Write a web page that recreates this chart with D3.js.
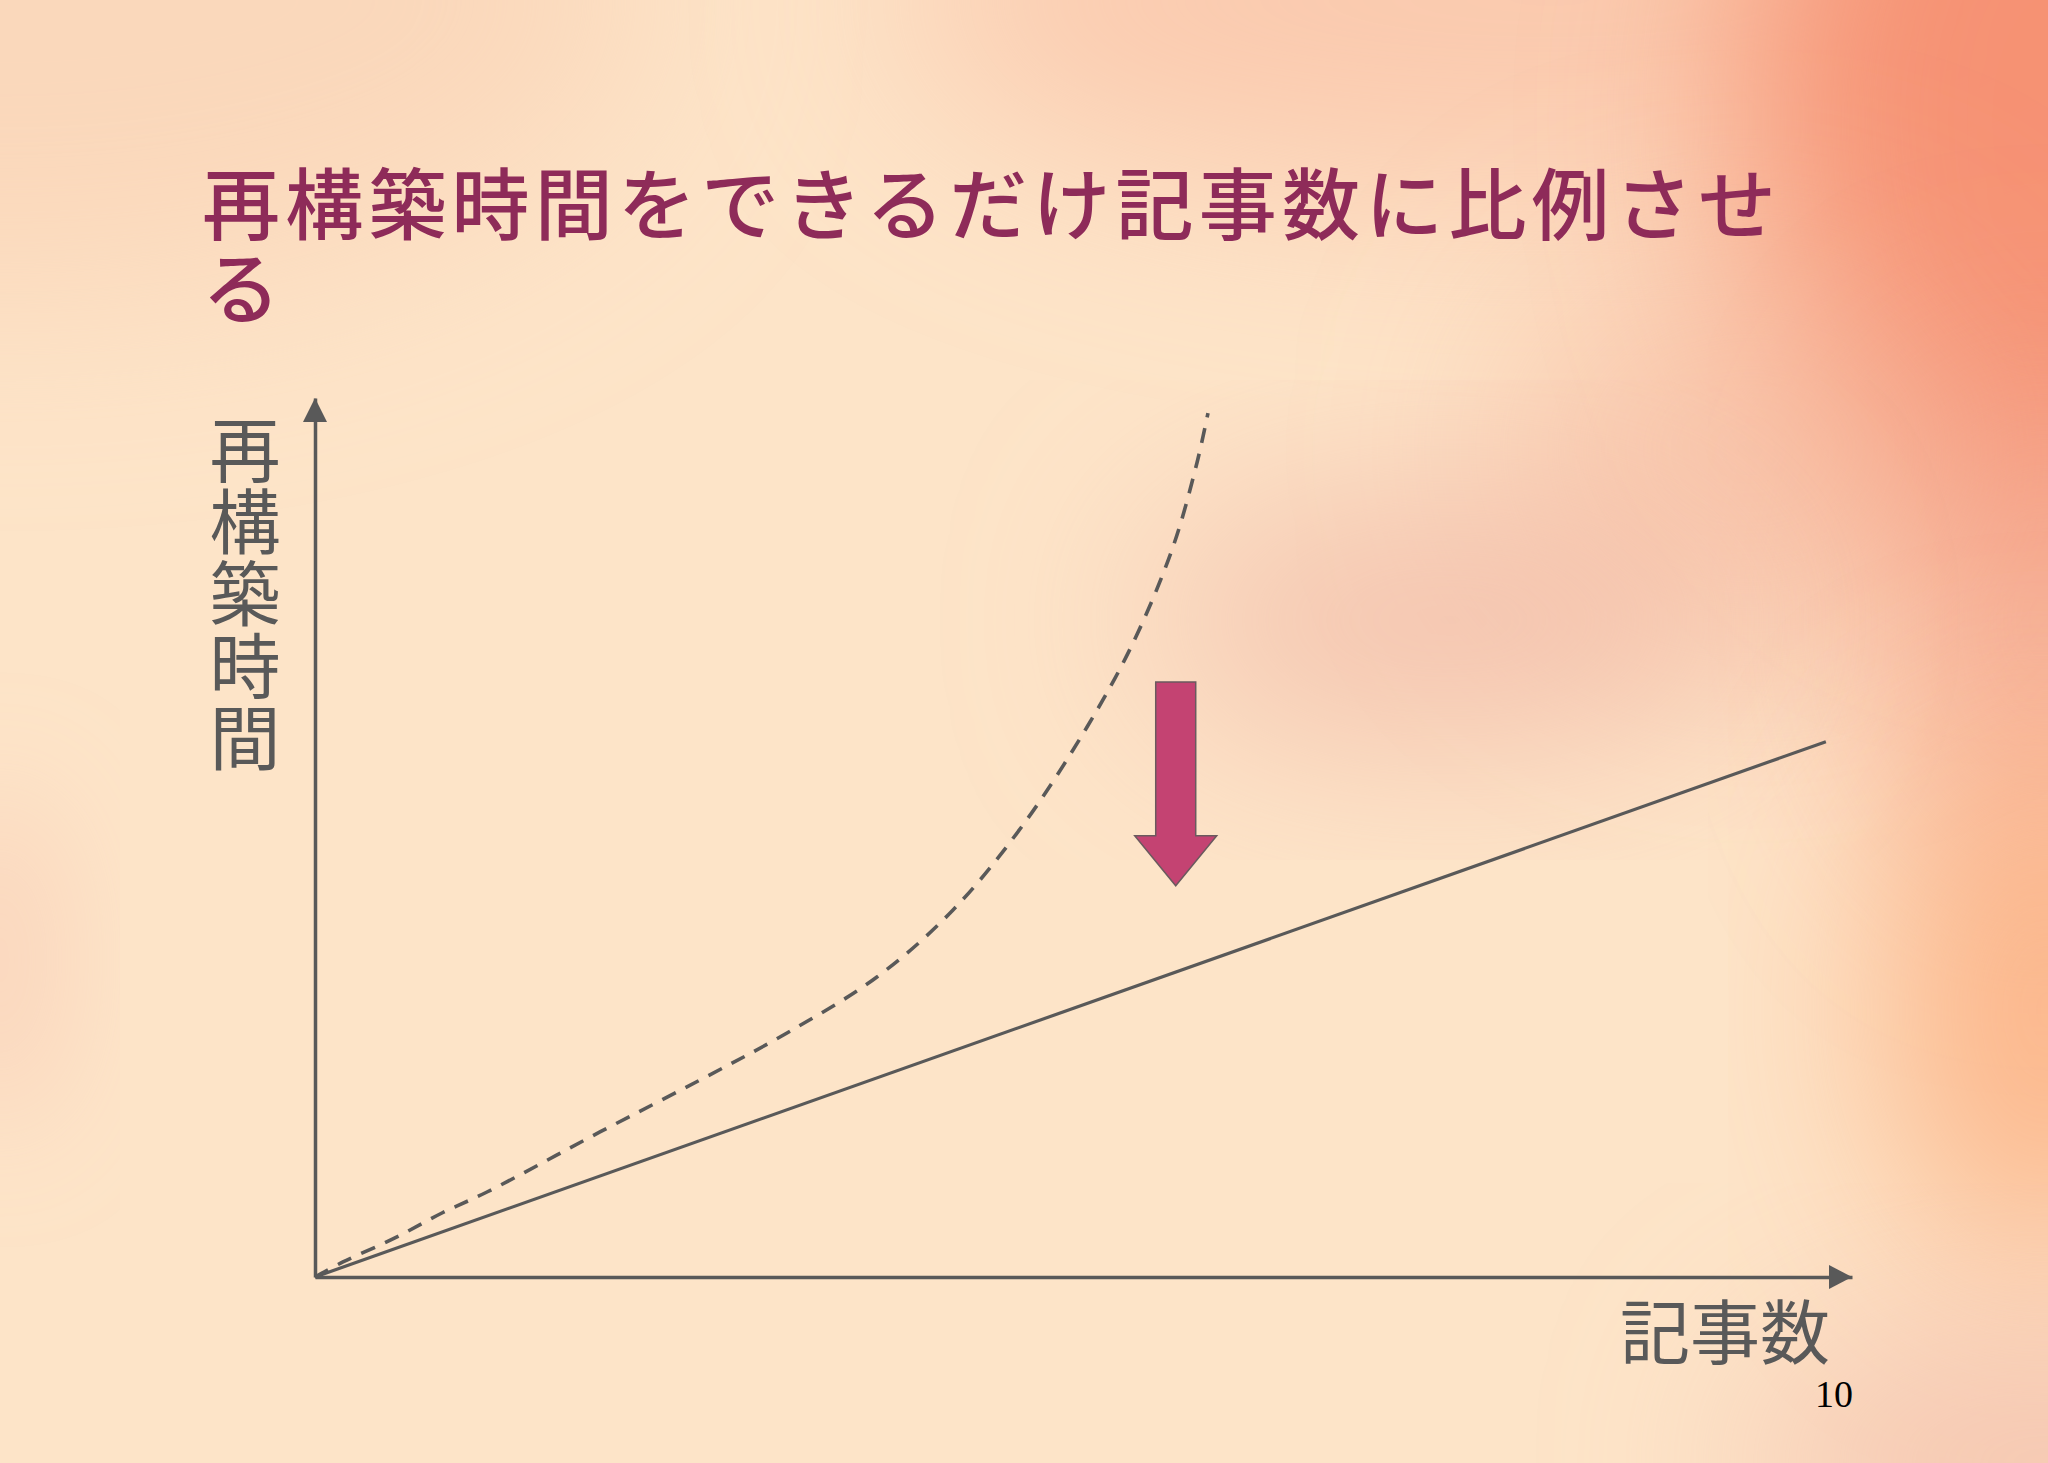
<!DOCTYPE html>
<html>
<head>
<meta charset="utf-8">
<script src="https://cdn.jsdelivr.net/npm/d3@7"></script>
<style>
  html, body { margin: 0; padding: 0; background: #FDE4C8; }
  svg { display: block; }
</style>
</head>
<body>
<div id="chart"></div>
<script>
// ---- data ----
const titleLines = ["再構築時間をできるだけ記事数に比例させ", "る"];
const yLabel = ["再", "構", "築", "時", "間"];
const xLabel = "記事数";
const pageNumber = "10";

// solid: proportional rebuild time
const solidX = [0, 98.3];
const solidY = [0, 60.9];

// dashed: current (super-linear) rebuild time
const dashedX = [0, 1.82, 5.20, 8.26, 11.19, 18.54, 25.05, 30.71, 36.56, 41.51, 46.06, 50.23, 53.22, 55.82, 57.38, 58.10];
const dashedY = [0, 1.71, 4.44, 7.28, 9.67, 16.50, 22.41, 27.76, 34.13, 41.75, 51.42, 62.57, 72.13, 83.05, 92.61, 98.29];

// arrow annotation (data units)
const arrowX = [56.0];
const arrowTop = [67.7];
const arrowHeadBase = [50.2];
const arrowTip = [44.5];

// ---- drawing ----
const W = 2048, H = 1463;
const svg = d3.select("#chart").append("svg").attr("width", W).attr("height", H);
const defs = svg.append("defs");

// background
svg.append("rect").attr("width", W).attr("height", H).attr("fill", "#FDE4C8");
[["blur", 100], ["blur2", 60]].forEach(([id, s]) => {
  defs.append("filter").attr("id", id)
    .attr("x", "-50%").attr("y", "-50%").attr("width", "200%").attr("height", "200%")
    .append("feGaussianBlur").attr("stdDeviation", s);
});

const blobs = [
  {cx: 0, cy: 0, rx: 650, ry: 300, c: "#F9D3B5", o: 0.7, f: "blur"},
  {cx: 1550, cy: 0, rx: 650, ry: 200, c: "#F9BFA4", o: 0.7, f: "blur"},
  {cx: 2048, cy: 120, rx: 300, ry: 420, c: "#F58E70", o: 0.95, f: "blur"},
  {cx: 2048, cy: 620, rx: 170, ry: 260, c: "#F3957C", o: 0.65, f: "blur"},
  {cx: 1750, cy: 450, rx: 250, ry: 200, c: "#F6AE94", o: 0.5, f: "blur"},
  {cx: 1450, cy: 620, rx: 300, ry: 120, c: "#EFB3A3", o: 0.7, f: "blur"},
  {cx: 2048, cy: 1010, rx: 160, ry: 260, c: "#FBA979", o: 0.8, f: "blur"},
  {cx: 2048, cy: 1463, rx: 300, ry: 140, c: "#F2B9A6", o: 0.7, f: "blur"},
  {cx: 0, cy: 960, rx: 60, ry: 170, c: "#F6C0AC", o: 0.45, f: "blur2"}
];
const bg = svg.append("g");
blobs.forEach(b => {
  bg.append("ellipse").attr("cx", b.cx).attr("cy", b.cy).attr("rx", b.rx).attr("ry", b.ry)
    .attr("fill", b.c).attr("fill-opacity", b.o).attr("filter", `url(#${b.f})`);
});

// scales
const x = d3.scaleLinear().domain([0, 100]).range([315, 1852]);
const y = d3.scaleLinear().domain([0, 100]).range([1277, 398]);
const axisColor = "#595959";
const jp = "'Noto Sans CJK JP', 'Noto Sans CJK SC', sans-serif";

// title
titleLines.forEach((t, i) => {
  const el = svg.append("text")
    .attr("x", 202).attr("y", 234 + i * 84)
    .attr("font-family", jp).attr("font-weight", 500)
    .attr("font-size", 78).attr("fill", "#8E2B59").text(t);
  if (i === 0) el.attr("textLength", 1574).attr("lengthAdjust", "spacing");
});

// axes (no ticks)
const xAxis = svg.append("g").attr("transform", `translate(0,${y(0)})`)
  .call(d3.axisBottom(x).tickValues([]).tickSizeOuter(0));
xAxis.select(".domain").attr("stroke", axisColor).attr("stroke-width", 3.5);
const yAxis = svg.append("g").attr("transform", `translate(${x(0)},0)`)
  .call(d3.axisLeft(y).tickValues([]).tickSizeOuter(0));
yAxis.select(".domain").attr("stroke", axisColor).attr("stroke-width", 3.5);

// axis arrowheads
svg.append("path")
  .attr("d", `M${x(100)},${y(0)} L${x(100) - 23},${y(0) - 12} L${x(100) - 23},${y(0) + 12} Z`)
  .attr("fill", axisColor);
svg.append("path")
  .attr("d", `M${x(0)},${y(100)} L${x(0) - 12},${y(100) + 24} L${x(0) + 12},${y(100) + 24} Z`)
  .attr("fill", axisColor);

// lines
svg.append("path")
  .datum(solidX.map((v, i) => [v, solidY[i]]))
  .attr("d", d3.line().x(d => x(d[0])).y(d => y(d[1])))
  .attr("fill", "none").attr("stroke", axisColor).attr("stroke-width", 3.2);

svg.append("path")
  .datum(dashedX.map((v, i) => [v, dashedY[i]]))
  .attr("d", d3.line().x(d => x(d[0])).y(d => y(d[1])).curve(d3.curveCatmullRom.alpha(0.5)))
  .attr("fill", "none").attr("stroke", axisColor).attr("stroke-width", 3.6)
  .attr("stroke-dasharray", "15,11");

// pink arrow
arrowX.forEach((ax, i) => {
  const cx = x(ax), top = y(arrowTop[i]), hb = y(arrowHeadBase[i]), tip = y(arrowTip[i]);
  const sw = 20, hw = 41;
  svg.append("path")
    .attr("d", `M${cx - sw},${top} L${cx + sw},${top} L${cx + sw},${hb} L${cx + hw},${hb} L${cx},${tip} L${cx - hw},${hb} L${cx - sw},${hb} Z`)
    .attr("fill", "#C44372").attr("stroke", "#6a5a5e").attr("stroke-width", 1.5);
});

// y label: one glyph per row, set in vertical writing
yLabel.forEach((c, i) => {
  svg.append("text")
    .attr("x", 245).attr("y", 414 + i * 72)
    .attr("font-family", jp).attr("font-size", 71)
    .attr("fill", axisColor)
    .style("writing-mode", "vertical-rl")
    .text(c);
});

// x label
svg.append("text")
  .attr("x", 1830).attr("y", 1359)
  .attr("font-family", jp).attr("font-size", 70)
  .attr("fill", axisColor).attr("text-anchor", "end")
  .text(xLabel);

// page number
svg.append("text")
  .attr("x", 1853).attr("y", 1407)
  .attr("font-family", "'Liberation Serif', 'Times New Roman', serif")
  .attr("font-size", 38).attr("fill", "#000").attr("text-anchor", "end")
  .text(pageNumber);
</script>
</body>
</html>
